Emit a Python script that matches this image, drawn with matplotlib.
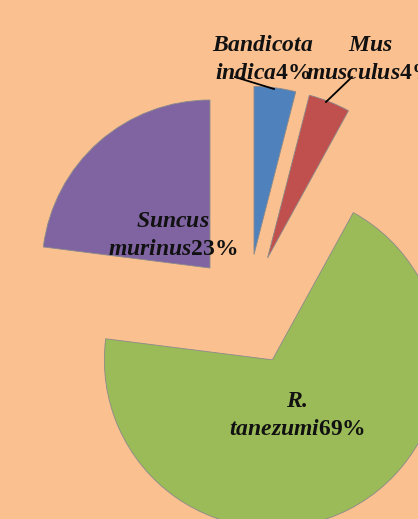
import matplotlib
matplotlib.use("Agg")
import matplotlib.pyplot as plt

# data
species = ["Bandicota indica", "Mus musculus", "R. tanezumi", "Suncus murinus"]
shares = [4, 4, 69, 23]
colors = ["#4F81BD", "#C0504D", "#9BBB59", "#8064A2"]

# label lines: (name line 1, name line 2)
name_lines = [("Bandicota", "indica"), ("Mus", "musculus"), ("R.", "tanezumi"), ("Suncus", "murinus")]

plt.rcParams["mathtext.fontset"] = "custom"
plt.rcParams["mathtext.rm"] = "Liberation Serif"
plt.rcParams["mathtext.bf"] = "Liberation Serif:bold"
plt.rcParams["mathtext.it"] = "Liberation Serif:italic"
plt.rcParams["mathtext.bfit"] = "Liberation Serif:italic:bold"

bg = "#FAC090"
fig = plt.figure(figsize=(4.18, 5.19), dpi=100, facecolor=bg)
ax = fig.add_axes([0, 0, 1, 1])
ax.set_facecolor(bg)

ax.pie(shares, colors=colors, startangle=90, counterclock=False,
       explode=[0.333] * len(shares), radius=1.0,
       wedgeprops=dict(edgecolor="#8a8a8a", linewidth=0.6))

ax.set_xlim(-1.470, 1.018)
ax.set_ylim(-1.244, 1.845)
ax.axis("off")


def px(x, y):
    # pixel position in the picture -> data coords
    return (x - 247) / 168.0, (310 - y) / 168.0


label_pos = [px(263, 58), px(370, 58), px(297, 414), px(173, 234)]
for (l1, l2), val, (x, y) in zip(name_lines, shares, label_pos):
    txt = r"$\mathbfit{%s}$" % l1 + "\n" + r"$\mathbfit{%s}\mathbf{%d\%%}$" % (l2, val)
    ax.text(x, y, txt, ha="center", va="center", fontsize=17, color="#111111")

# leader lines
for p0, p1 in [((235, 77), (274, 89)), ((352, 77), (326, 102))]:
    a, b = px(*p0), px(*p1)
    ax.plot([a[0], b[0]], [a[1], b[1]], color="black", linewidth=1.3)

fig.savefig("out.png", dpi=100, facecolor=bg)
